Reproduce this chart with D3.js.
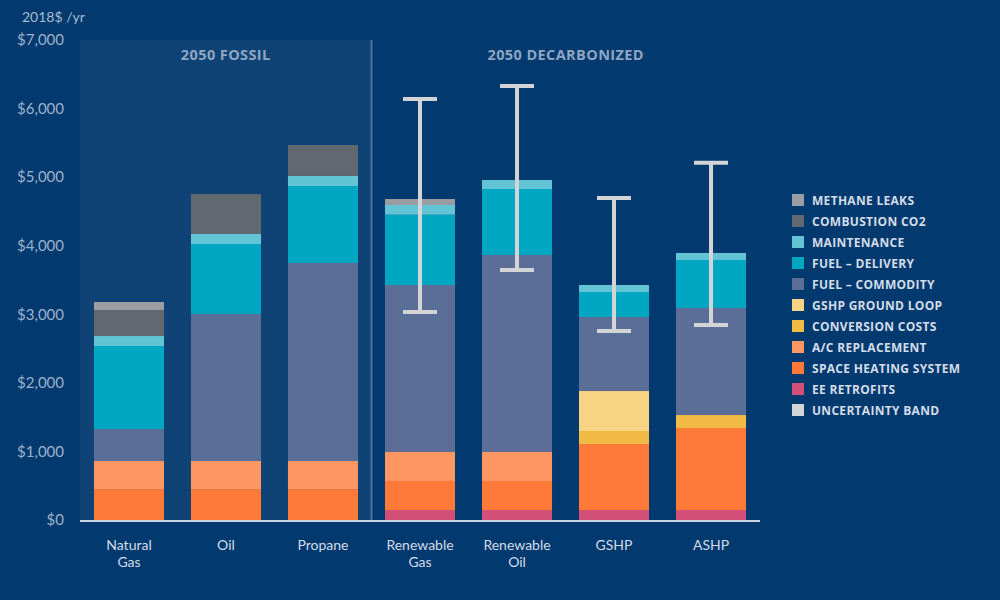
<!DOCTYPE html>
<html>
<head>
<meta charset="utf-8">
<script src="https://cdn.jsdelivr.net/npm/d3@7"></script>
<style>
  body { margin: 0; background: #02396f; }
  svg { display: block; }
</style>
</head>
<body>
<div id="chart"></div>
<script>
// categories along the x axis (second line after \n)
const categories = ['Natural\nGas', 'Oil', 'Propane', 'Renewable\nGas', 'Renewable\nOil', 'GSHP', 'ASHP'];

// cost components, 2018$ per year
const eeRetrofits      = [0,    0,    0,    146,  146,  146,  146];
const spaceHeating     = [450,  450,  450,  423,  423,  962,  1196];
const acReplacement    = [410,  410,  410,  423,  423,  0,    0];
const conversionCosts  = [0,    0,    0,    0,    0,    190,  189];
const gshpGroundLoop   = [0,    0,    0,    0,    0,    583,  0];
const fuelCommodity    = [467,  2144, 2888, 2435, 2873, 1079, 1561];
const fuelDelivery     = [1210, 1021, 1123, 1025, 962,  365,  700];
const maintenance      = [146,  146,  146,  142,  131,  102,  102];
const combustionCO2    = [379,  583,  452,  0,    0,    0,    0];
const methaneLeaks     = [117,  0,    0,    87,   0,    0,    0];

// uncertainty band [low, high], null where there is none
const uncertaintyLow  = [null, null, null, 3033, 3646, 2756, 2844];
const uncertaintyHigh = [null, null, null, 6140, 6329, 4696, 5211];

const yTicks = [0, 1000, 2000, 3000, 4000, 5000, 6000, 7000];

const series = [
  {key: 'ee',    name: 'EE RETROFITS',         color: '#d24f78', values: eeRetrofits},
  {key: 'sh',    name: 'SPACE HEATING SYSTEM', color: '#ff7a38', values: spaceHeating},
  {key: 'ac',    name: 'A/C REPLACEMENT',      color: '#ff9763', values: acReplacement},
  {key: 'conv',  name: 'CONVERSION COSTS',     color: '#f2bb46', values: conversionCosts},
  {key: 'loop',  name: 'GSHP GROUND LOOP',     color: '#f9d384', values: gshpGroundLoop},
  {key: 'comm',  name: 'FUEL \u2013 COMMODITY', color: '#5b6e98', values: fuelCommodity},
  {key: 'deliv', name: 'FUEL \u2013 DELIVERY',  color: '#00a7c2', values: fuelDelivery},
  {key: 'maint', name: 'MAINTENANCE',          color: '#63c4d5', values: maintenance},
  {key: 'co2',   name: 'COMBUSTION CO2',       color: '#62686f', values: combustionCO2},
  {key: 'ch4',   name: 'METHANE LEAKS',        color: '#9a9ea3', values: methaneLeaks}
];

const WIDTH = 1000, HEIGHT = 600;
const PLOT = {LEFT: 80, RIGHT: 760, TOP: 40, BOTTOM: 520};

const svg = d3.select('#chart')
  .append('svg')
    .attr('width', WIDTH)
    .attr('height', HEIGHT)
    .style('background', '#02396f');

const x = d3.scaleBand()
  .domain(categories)
  .range([PLOT.LEFT, PLOT.RIGHT])
  .paddingInner(0.278)
  .paddingOuter(0.144);

const y = d3.scaleLinear()
  .domain([0, 7000])
  .range([PLOT.BOTTOM, PLOT.TOP]);

// fossil panel background
const dividerX = (x(categories[2]) + x.bandwidth() + x(categories[3])) / 2;
svg.append('rect')
  .attr('x', PLOT.LEFT)
  .attr('y', y(7000))
  .attr('width', dividerX - PLOT.LEFT)
  .attr('height', y(0) - y(7000))
  .attr('fill', '#0f4275');

svg.append('line')
  .attr('x1', dividerX).attr('x2', dividerX)
  .attr('y1', y(7000)).attr('y2', y(0))
  .attr('stroke', '#4a73a0')
  .attr('stroke-width', 2);

// panel headers
const headers = [
  {text: '2050 FOSSIL', x: (PLOT.LEFT + dividerX) / 2},
  {text: '2050 DECARBONIZED', x: (dividerX + PLOT.RIGHT) / 2}
];
svg.append('g')
  .selectAll('text')
  .data(headers)
  .join('text')
    .attr('x', d => d.x)
    .attr('y', 60)
    .attr('text-anchor', 'middle')
    .attr('font-family', 'Open Sans, sans-serif')
    .attr('font-weight', 700)
    .attr('font-size', 14.5)
    .attr('letter-spacing', 0.4)
    .attr('fill', '#8ea6c2')
    .text(d => d.text);

// unit label
svg.append('text')
  .attr('x', 22)
  .attr('y', 22)
  .attr('font-family', 'Lato, sans-serif')
  .attr('font-size', 14)
  .attr('fill', '#a9bcd2')
  .text('2018$ /yr');

// y axis
const yAxis = svg.append('g')
  .attr('transform', `translate(${PLOT.LEFT - 16}, 0)`)
  .call(d3.axisLeft(y).tickValues(yTicks).tickSize(0).tickPadding(0)
    .tickFormat(d => '$' + d3.format(',')(d)));
yAxis.select('.domain').remove();
yAxis.selectAll('text')
  .attr('font-family', 'Lato, sans-serif')
  .attr('font-size', 15)
  .attr('fill', '#9db2cb');

// stacked bars
const table = categories.map((c, i) => {
  const row = {category: c};
  series.forEach(s => { row[s.key] = s.values[i]; });
  return row;
});
const stacked = d3.stack().keys(series.map(s => s.key))(table);

svg.append('g')
  .selectAll('g')
  .data(stacked)
  .join('g')
    .attr('fill', (d, i) => series[i].color)
  .selectAll('rect')
  .data(d => d.filter(p => p[1] - p[0] > 0))
  .join('rect')
    .attr('x', d => x(d.data.category))
    .attr('y', d => y(d[1]))
    .attr('width', x.bandwidth())
    .attr('height', d => y(d[0]) - y(d[1]));

// x axis baseline
svg.append('line')
  .attr('x1', PLOT.LEFT).attr('x2', PLOT.RIGHT)
  .attr('y1', y(0) + 1).attr('y2', y(0) + 1)
  .attr('stroke', '#c9d3de')
  .attr('stroke-width', 2);

// category labels
const xLabels = svg.append('g')
  .selectAll('text')
  .data(categories)
  .join('text')
    .attr('x', d => x(d) + x.bandwidth() / 2)
    .attr('y', 550)
    .attr('text-anchor', 'middle')
    .attr('font-family', 'Lato, sans-serif')
    .attr('font-size', 14)
    .attr('fill', '#d3dde8');
xLabels.selectAll('tspan')
  .data(d => d.split('\n'))
  .join('tspan')
    .attr('x', function() { return d3.select(this.parentNode).attr('x'); })
    .attr('dy', (d, i) => i === 0 ? 0 : 17)
    .text(d => d);

// uncertainty bands
const bands = categories
  .map((c, i) => ({category: c, low: uncertaintyLow[i], high: uncertaintyHigh[i]}))
  .filter(d => d.low !== null);
const CAP = 17;
const band = svg.append('g')
  .attr('stroke', '#d2d4d6')
  .attr('stroke-width', 4)
  .selectAll('g')
  .data(bands)
  .join('g');
band.append('line')
  .attr('x1', d => x(d.category) + x.bandwidth() / 2)
  .attr('x2', d => x(d.category) + x.bandwidth() / 2)
  .attr('y1', d => y(d.low))
  .attr('y2', d => y(d.high));
band.append('line')
  .attr('x1', d => x(d.category) + x.bandwidth() / 2 - CAP)
  .attr('x2', d => x(d.category) + x.bandwidth() / 2 + CAP)
  .attr('y1', d => y(d.high))
  .attr('y2', d => y(d.high));
band.append('line')
  .attr('x1', d => x(d.category) + x.bandwidth() / 2 - CAP)
  .attr('x2', d => x(d.category) + x.bandwidth() / 2 + CAP)
  .attr('y1', d => y(d.low))
  .attr('y2', d => y(d.low));

// legend, top to bottom
const legendItems = series.slice().reverse()
  .concat([{name: 'UNCERTAINTY BAND', color: '#d2d4d6'}]);
const legend = svg.append('g')
  .attr('transform', 'translate(792, 194)')
  .selectAll('g')
  .data(legendItems)
  .join('g')
    .attr('transform', (d, i) => `translate(0, ${i * 21})`);
legend.append('rect')
  .attr('width', 12)
  .attr('height', 12)
  .attr('fill', d => d.color);
legend.append('text')
  .attr('x', 20)
  .attr('y', 10.5)
  .attr('font-family', 'Open Sans, sans-serif')
  .attr('font-weight', 700)
  .attr('font-size', 12)
  .attr('letter-spacing', 0.3)
  .attr('fill', '#d3dde8')
  .text(d => d.name);
</script>
</body>
</html>
